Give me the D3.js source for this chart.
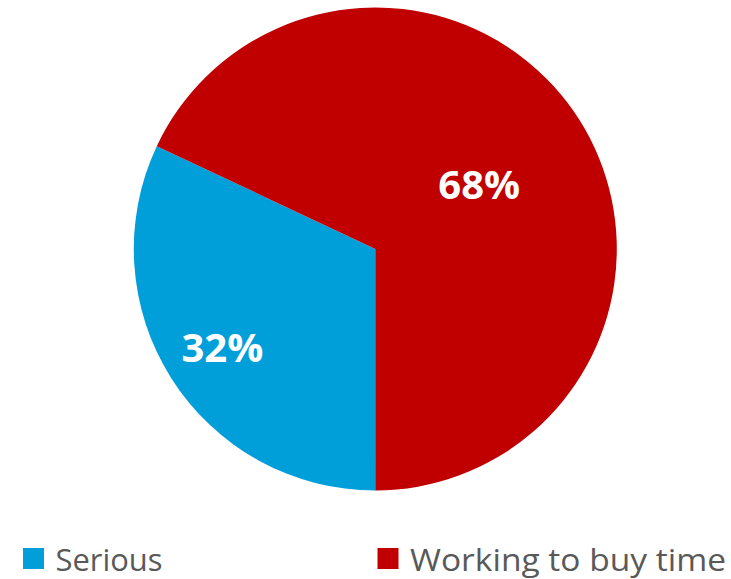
<!DOCTYPE html>
<html>
<head>
<meta charset="utf-8">
<script src="https://cdn.jsdelivr.net/npm/d3@7"></script>
<style>
  html, body { margin: 0; padding: 0; background: #ffffff; }
  svg { display: block; }
</style>
</head>
<body>
<svg id="chart" width="731" height="579"></svg>
<script>
// Data
const categories = ["Serious", "Working to buy time"];
const values = [32, 68];
const labels = ["32%", "68%"];
const colors = ["#009FDA", "#C00000"];

// Layout
const W = 731, H = 579;
const cx = 375.3, cy = 249, radius = 241.5;
const labelRadiusFrac = [0.76, 0.5];

const svg = d3.select("#chart");

const pie = d3.pie()
  .sort(null)
  .value(d => d)
  .startAngle(Math.PI)
  .endAngle(Math.PI * 3);

const arcs = pie(values);
const arc = d3.arc().innerRadius(0).outerRadius(radius);
const color = d3.scaleOrdinal().domain(categories).range(colors);

const g = svg.append("g").attr("transform", `translate(${cx},${cy})`);

g.selectAll("path.slice")
  .data(arcs)
  .join("path")
  .attr("class", "slice")
  .attr("d", arc)
  .attr("fill", (d, i) => color(categories[i]));

g.selectAll("text.lbl")
  .data(arcs)
  .join("text")
  .attr("class", "lbl")
  .attr("transform", (d, i) => {
    const la = d3.arc().innerRadius(0).outerRadius(radius * labelRadiusFrac[i] * 2);
    const c = la.centroid(d);
    return `translate(${c[0] + 2},${c[1]})`;
  })
  .attr("text-anchor", "middle")
  .attr("dy", "0.36em")
  .attr("fill", "#ffffff")
  .attr("font-family", "'Open Sans', sans-serif")
  .attr("font-weight", "bold")
  .attr("font-size", 40)
  .text((d, i) => labels[i]);

// Legend
const legendX = [23, 377.5];
const legendTextW = [107, 316];
const legend = svg.append("g");
const items = legend.selectAll("g.item")
  .data(categories)
  .join("g")
  .attr("class", "item")
  .attr("transform", (d, i) => `translate(${legendX[i]},548)`);

items.append("rect")
  .attr("width", 21)
  .attr("height", 21)
  .attr("fill", d => color(d));

items.append("text")
  .attr("x", 32.5)
  .attr("y", 22.5)
  .attr("fill", "#595959")
  .attr("font-family", "'Open Sans', sans-serif")
  .attr("font-size", 31)
  .attr("textLength", (d, i) => legendTextW[i])
  .attr("lengthAdjust", "spacingAndGlyphs")
  .text(d => d);
</script>
</body>
</html>
